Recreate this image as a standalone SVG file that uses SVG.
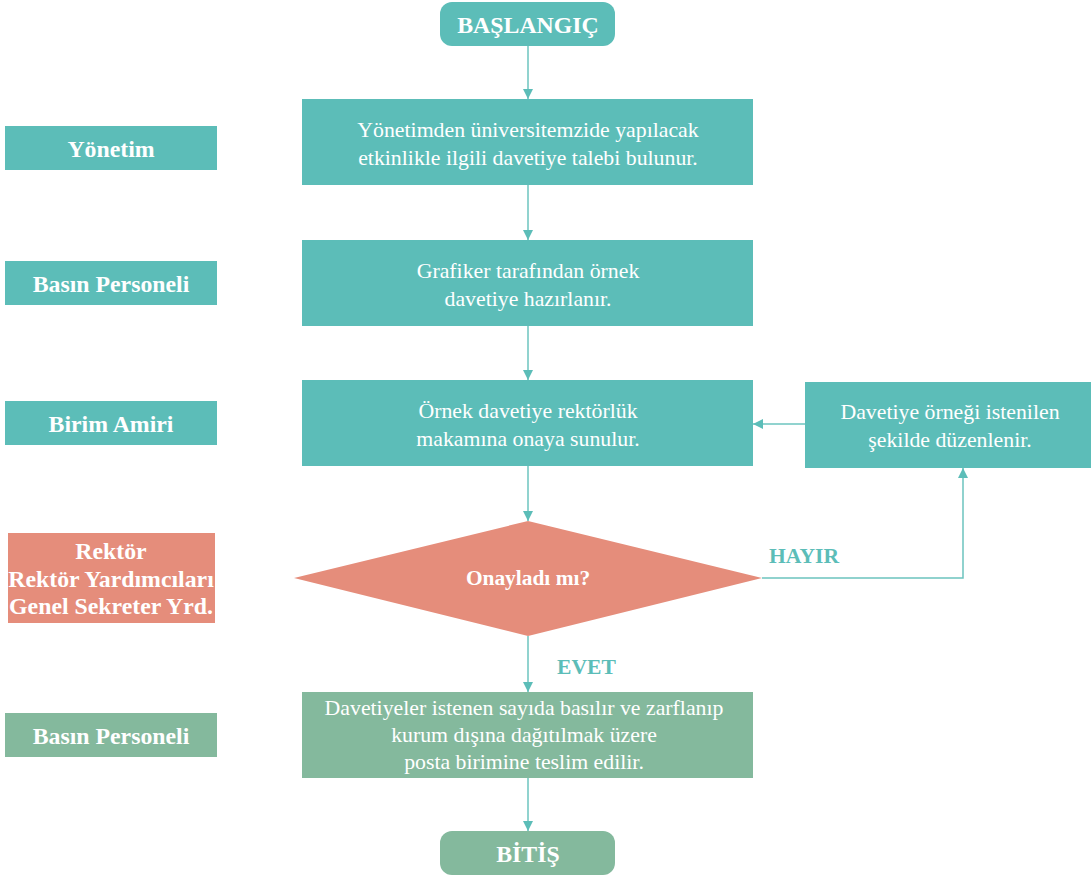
<svg xmlns="http://www.w3.org/2000/svg" width="1092" height="880" viewBox="0 0 1092 880">
<defs>
<style>
.t{fill:#5cbdb8}.s{fill:#e58d7b}.g{fill:#84b99d}
text{font-family:'Liberation Serif','Times New Roman','DejaVu Serif',serif}
.lbl{font-weight:bold;font-size:23.8px;fill:#fff;text-anchor:middle}
.txt{font-size:21.8px;fill:#fff;text-anchor:middle}
.ed{font-weight:bold;font-size:21.6px;fill:#5cbdb8}
.c{stroke:#6cc4bf;stroke-width:1.5;fill:none}
</style>
<marker id="ah" viewBox="0 0 10 10" refX="10" refY="5" markerWidth="10" markerHeight="10" markerUnits="userSpaceOnUse" orient="auto"><path d="M0,0 L10,5 L0,10 Z" fill="#5cbdb8"/></marker>
</defs>
<rect width="1092" height="880" fill="#fff"/>
<g id="lanes">
<g id="lane-yonetim"><rect class="t" x="5" y="126" width="212" height="44"/><text class="lbl" x="111" y="157">Yönetim</text></g>
<g id="lane-basin1"><rect class="t" x="5" y="261" width="212" height="44"/><text class="lbl" x="111" y="292">Basın Personeli</text></g>
<g id="lane-birim"><rect class="t" x="5" y="401" width="212" height="44"/><text class="lbl" x="111" y="432">Birim Amiri</text></g>
<g id="lane-rektor"><rect class="s" x="8" y="533" width="207" height="90"/><text class="lbl" x="111" y="559">Rektör</text><text class="lbl" x="111" y="587">Rektör Yardımcıları</text><text class="lbl" x="111" y="614">Genel Sekreter Yrd.</text></g>
<g id="lane-basin2"><rect class="g" x="5" y="713" width="212" height="44"/><text class="lbl" x="111" y="744">Basın Personeli</text></g>
</g>
<g id="connectors">
<line class="c" x1="528" y1="46" x2="528" y2="99" marker-end="url(#ah)"/>
<line class="c" x1="528" y1="185" x2="528" y2="240" marker-end="url(#ah)"/>
<line class="c" x1="528" y1="326" x2="528" y2="380" marker-end="url(#ah)"/>
<line class="c" x1="528" y1="466" x2="528" y2="521" marker-end="url(#ah)"/>
<line class="c" x1="805" y1="424" x2="753" y2="424" marker-end="url(#ah)"/>
<polyline class="c" points="762,578 963,578 963,468" marker-end="url(#ah)"/>
<line class="c" x1="528" y1="636" x2="528" y2="692" marker-end="url(#ah)"/>
<line class="c" x1="528" y1="778" x2="528" y2="831" marker-end="url(#ah)"/>
<text class="ed" x="769" y="563">HAYIR</text>
<text class="ed" x="557" y="674">EVET</text>
</g>
<g id="start"><rect class="t" x="440" y="2" width="175" height="44" rx="12"/><text class="lbl" x="528" y="33">BAŞLANGIÇ</text></g>
<g id="step1"><rect class="t" x="302" y="99" width="451" height="86"/><text class="txt" x="528" y="137">Yönetimden üniversitemzide yapılacak</text><text class="txt" x="528" y="165">etkinlikle ilgili davetiye talebi bulunur.</text></g>
<g id="step2"><rect class="t" x="302" y="240" width="451" height="86"/><text class="txt" x="528" y="278">Grafiker tarafından örnek</text><text class="txt" x="528" y="306">davetiye hazırlanır.</text></g>
<g id="step3"><rect class="t" x="302" y="380" width="451" height="86"/><text class="txt" x="528" y="418">Örnek davetiye rektörlük</text><text class="txt" x="528" y="446">makamına onaya sunulur.</text></g>
<g id="revise"><rect class="t" x="805" y="382" width="286" height="86"/><text class="txt" x="950" y="419">Davetiye örneği istenilen</text><text class="txt" x="950" y="447">şekilde düzenlenir.</text></g>
<g id="decision"><polygon class="s" points="528,521 762,578 528,636 294,578"/><text class="lbl" x="528" y="585" style="font-size:21.4px">Onayladı mı?</text></g>
<g id="step4"><rect class="g" x="302" y="692" width="451" height="86"/><text class="txt" x="524" y="715">Davetiyeler istenen sayıda basılır ve zarflanıp</text><text class="txt" x="524" y="742">kurum dışına dağıtılmak üzere</text><text class="txt" x="524" y="769">posta birimine teslim edilir.</text></g>
<g id="end"><rect class="g" x="440" y="831" width="175" height="44" rx="12"/><text class="lbl" x="528" y="862">BİTİŞ</text></g>
</svg>
